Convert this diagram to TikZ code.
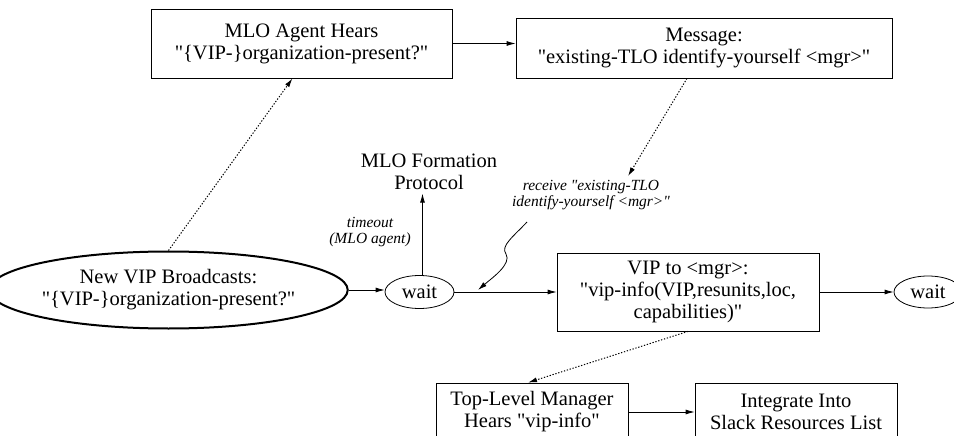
\documentclass[tikz,border=0pt]{standalone}
\usepackage{fontspec}
\setmainfont{Liberation Serif}[Ligatures=TeXOff]
\usetikzlibrary{arrows.meta,shapes.geometric,positioning}
\tikzset{
  msgbox/.style={draw,align=center,inner sep=0pt},
  waitnode/.style={draw,ellipse,inner sep=0pt,minimum width=69pt,minimum height=33pt},
  note/.style={align=center,font=\fontsize{15.5}{16.5}\selectfont\itshape},
  msgflow/.style={->,line width=1pt,dash pattern=on 1.3pt off 1.7pt},
}
\begin{document}
\begin{tikzpicture}[x=1pt,y=-1pt,line width=0.8pt,>={Latex[length=9pt,width=5pt]},
  font=\fontsize{20.5}{22}\selectfont]
\useasboundingbox (0,0) rectangle (954,436);
\clip (0,0) rectangle (954,436);
\node[msgbox,minimum width=301pt,minimum height=69pt] (hears) at (301.5,43.5) {MLO Agent Hears\\"\{VIP-\}organization-present?"};
\node[msgbox,minimum width=376pt,minimum height=60pt] (message) at (704,48) {Message:\\"existing-TLO identify-yourself <mgr>"};
\draw[->] (hears.east) -- (hears.east -| message.west);
\node[draw,ellipse,align=center,line width=2pt,inner sep=0pt,minimum width=313pt,minimum height=77pt] (vip) at (168.5,290) {New VIP Broadcasts:\\"\{VIP-\}organization-present?"};
\node[waitnode] (wait) at (419.5,292) {wait};
\draw[->] (vip.east) -- (vip.east -| wait.west);
\draw[msgflow] (vip.north) -- ([xshift=-9pt]hears.south);
\node[align=center] (protocol) at (429,172) {MLO Formation\\Protocol};
\draw[->] ([xshift=3pt]wait.north) -- ([xshift=3pt]wait.north |- protocol.south);
\node[note] (timeout) at (370,232) {timeout\\(MLO agent)};
\node[msgbox,minimum width=262pt,minimum height=78pt] (vipinfo) at (688,292) {VIP to <mgr>:\\"vip-info(VIP,resunits,loc,\\capabilities)"};
\draw[->] (wait.east) -- (vipinfo.west);
\node[note] (receive) at (591,195) {receive "existing-TLO\\identify-yourself <mgr>"};
\draw[msgflow] ([xshift=-17pt]message.south) -- ([xshift=37pt]receive.north);
\coordinate (squig) at (527,222);
\coordinate (hit) at (478,290);
\draw[->] (squig) .. controls (514,236) and (500,246) .. (506,254) .. controls (512,264) and (492,278) .. (hit);
\node[waitnode,minimum width=68pt,minimum height=32pt] (wait2) at (928,292) {wait};
\draw[->] (vipinfo.east) -- (wait2.west);
\node[msgbox,minimum width=192pt,minimum height=58pt] (toplevel) at (532,412) {Top-Level Manager\\Hears "vip-info"};
\node[msgbox,minimum width=202pt,minimum height=58pt] (integrate) at (796,412) {Integrate Into\\Slack Resources List};
\draw[msgflow] (vipinfo.south) -- ([xshift=-4pt]toplevel.north);
\draw[->] (toplevel.east) -- (integrate.west);
\end{tikzpicture}
\end{document}
